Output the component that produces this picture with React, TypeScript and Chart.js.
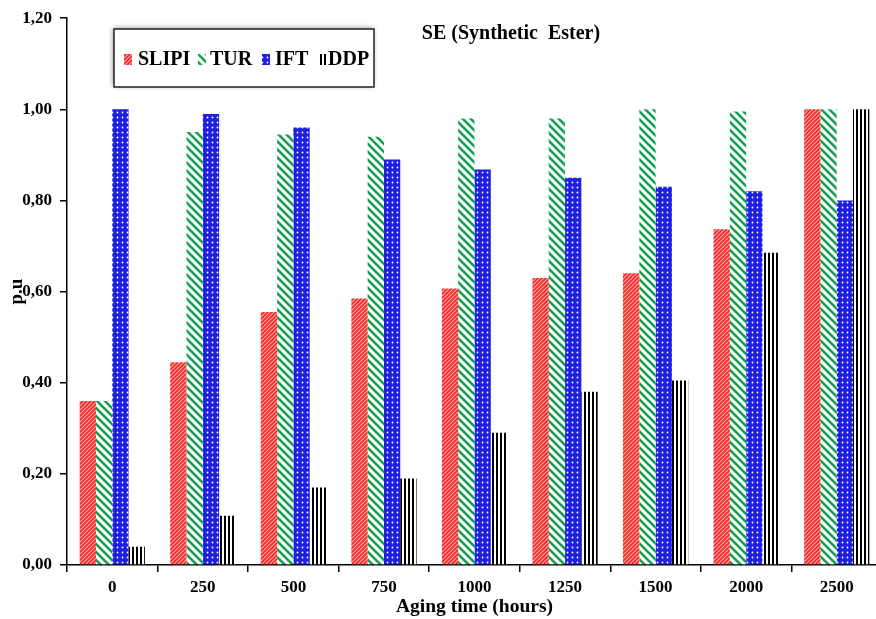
import { useEffect, useRef } from "react";
import { Chart, registerables } from "chart.js";
Chart.register(...registerables);

const categories = ["0", "250", "500", "750", "1000", "1250", "1500", "2000", "2500"];
const slipiValues = [0.36, 0.445, 0.555, 0.585, 0.607, 0.63, 0.64, 0.737, 1.0];
const turValues = [0.36, 0.95, 0.945, 0.94, 0.98, 0.98, 1.0, 0.995, 1.0];
const iftValues = [1.0, 0.99, 0.96, 0.89, 0.868, 0.85, 0.83, 0.82, 0.8];
const ddpValues = [0.04, 0.108, 0.17, 0.19, 0.29, 0.38, 0.405, 0.685, 1.0];
const seriesNames = ["SLIPI", "TUR", "IFT", "DDP"];
const chartTitle = "SE (Synthetic  Ester)";
const xTitle = "Aging time (hours)";
const yTitle = "p.u";

const FONT = "'Liberation Serif', 'DejaVu Serif', serif";

function makePattern(kind: string): CanvasPattern | string {
  const c = document.createElement("canvas");
  const ctx = c.getContext("2d")!;
  if (kind === "red") {
    c.width = 4; c.height = 4;
    ctx.fillStyle = "#ffa8a8";
    ctx.fillRect(0, 0, 4, 4);
    ctx.strokeStyle = "#ec2a2a";
    ctx.lineWidth = 1.7;
    ctx.beginPath();
    ctx.moveTo(-1, 5); ctx.lineTo(5, -1);
    ctx.moveTo(-1, 1); ctx.lineTo(1, -1);
    ctx.moveTo(3, 5); ctx.lineTo(5, 3);
    ctx.stroke();
  } else if (kind === "green") {
    c.width = 8; c.height = 8;
    ctx.fillStyle = "#ffffff";
    ctx.fillRect(0, 0, 8, 8);
    ctx.strokeStyle = "#13a050";
    ctx.lineWidth = 2.6;
    ctx.beginPath();
    ctx.moveTo(-1, -1); ctx.lineTo(9, 9);
    ctx.moveTo(-1, 7); ctx.lineTo(1, 9);
    ctx.moveTo(7, -1); ctx.lineTo(9, 1);
    ctx.stroke();
  } else if (kind === "blue") {
    c.width = 5; c.height = 5;
    ctx.fillStyle = "#1f1fe0";
    ctx.fillRect(0, 0, 5, 5);
    ctx.fillStyle = "#ffffff";
    ctx.beginPath();
    ctx.arc(2.5, 2.5, 0.9, 0, Math.PI * 2);
    ctx.fill();
  } else {
    c.width = 4; c.height = 4;
    ctx.fillStyle = "#ffffff";
    ctx.fillRect(0, 0, 4, 4);
    ctx.fillStyle = "#000000";
    ctx.fillRect(0, 0, 2, 4);
  }
  return ctx.createPattern(c, "repeat") || "#888";
}

export default function App() {
  const ref = useRef<HTMLCanvasElement | null>(null);
  useEffect(() => {
    const canvas = ref.current!;
    const fills = [makePattern("red"), makePattern("green"), makePattern("blue"), makePattern("black")];
    const values = [slipiValues, turValues, iftValues, ddpValues];

    const overlay = {
      id: "overlay",
      afterDraw(chart: any) {
        const ctx = chart.ctx as CanvasRenderingContext2D;
        ctx.save();
        // title
        ctx.fillStyle = "#000";
        ctx.font = `bold 20px ${FONT}`;
        ctx.textAlign = "center";
        ctx.textBaseline = "middle";
        ctx.fillText(chartTitle, 511, 34);
        // legend box
        ctx.save();
        ctx.shadowColor = "rgba(0,0,0,0.45)";
        ctx.shadowBlur = 5;
        ctx.shadowOffsetX = -1;
        ctx.shadowOffsetY = -1;
        ctx.fillStyle = "#fff";
        ctx.fillRect(114, 29, 260, 58);
        ctx.restore();
        ctx.strokeStyle = "#222";
        ctx.lineWidth = 1.5;
        ctx.strokeRect(114, 29, 260, 58);
        ctx.font = `bold 20px ${FONT}`;
        ctx.textAlign = "left";
        const boxX = [124, 198, 262, 318];
        const textX = [138, 210, 275, 328];
        chart.data.datasets.forEach((ds: any, i: number) => {
          ctx.fillStyle = ds.backgroundColor;
          ctx.fillRect(boxX[i], 54, 8, 11);
          ctx.fillStyle = "#000";
          ctx.fillText(ds.label, textX[i], 60);
        });
        ctx.restore();
      },
    };

    const chart = new Chart(canvas, {
      type: "bar",
      data: {
        labels: categories,
        datasets: seriesNames.map((name, i) => ({
          label: name,
          data: values[i],
          backgroundColor: fills[i] as any,
          borderWidth: 0,
          barPercentage: 1.0,
          categoryPercentage: 0.72,
        })),
      },
      options: {
        responsive: false,
        animation: false,
        layout: { padding: { top: 15, right: 2, left: 0, bottom: 0 } },
        plugins: { legend: { display: false }, tooltip: { enabled: false }, title: { display: false } },
        scales: {
          x: {
            offset: true,
            grid: { display: true, offset: true, drawOnChartArea: false, drawTicks: true, tickLength: 7, color: "#000", lineWidth: 1.5 },
            border: { display: true, color: "#000", width: 1.5 },
            ticks: { color: "#000", font: { family: FONT, size: 17, weight: "bold" }, padding: 5, maxRotation: 0 },
            title: { display: true, text: xTitle, color: "#000", font: { family: FONT, size: 19.5, weight: "bold" }, padding: { top: 0, bottom: 0 } },
            afterFit: (s: any) => { s.height = 54; },
          },
          y: {
            min: 0,
            max: 1.2,
            ticks: {
              stepSize: 0.2,
              color: "#000",
              font: { family: FONT, size: 17, weight: "bold" },
              padding: 8,
              callback: (v: any) => Number(v).toFixed(2).replace(".", ","),
            },
            grid: { display: true, drawOnChartArea: false, drawTicks: true, tickLength: 7, color: "#000", lineWidth: 1.5 },
            border: { display: true, color: "#000", width: 1.5 },
            title: { display: true, text: yTitle, color: "#000", font: { family: FONT, size: 19, weight: "bold" }, padding: { top: 6, bottom: 0 } },
            afterFit: (s: any) => { s.width = 67; },
          },
        },
      },
      plugins: [overlay],
    });
    return () => chart.destroy();
  }, []);
  return (
    <div style={{ position: "fixed", left: 0, top: 0, width: 876, height: 619, overflow: "hidden", background: "#fff" }}>
      <canvas ref={ref} width={884} height={619} style={{ display: "block" }} />
    </div>
  );
}
